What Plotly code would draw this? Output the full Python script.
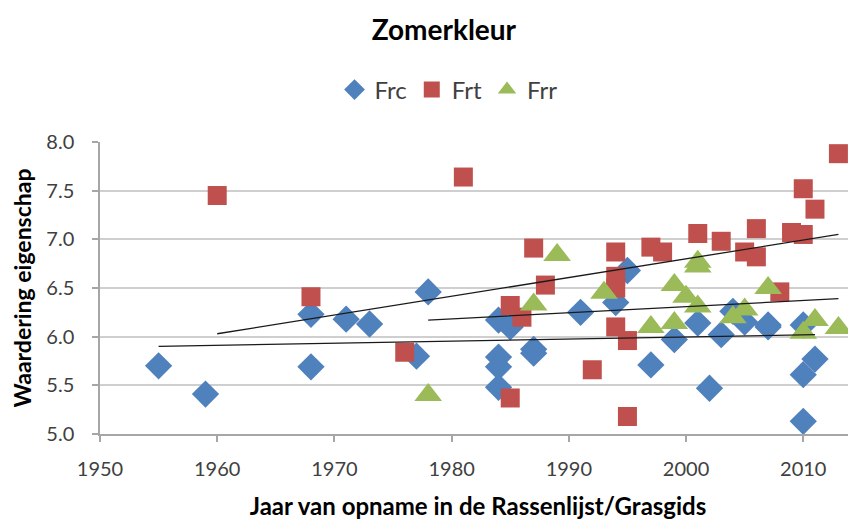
import plotly.graph_objects as go

# ---- data ----
frc_year = [1955, 1959, 1968, 1968, 1971, 1973, 1977, 1978, 1984, 1984, 1984, 1984, 1985,
            1987, 1987, 1991, 1994, 1995, 1997, 1999, 2001, 2002, 2003, 2004, 2005,
            2007, 2007, 2010, 2010, 2010, 2011]
frc_val = [5.70, 5.41, 6.23, 5.69, 6.18, 6.13, 5.80, 6.46, 6.17, 5.79, 5.69, 5.48, 6.10,
           5.87, 5.83, 6.25, 6.35, 6.68, 5.71, 5.97, 6.14, 5.47, 6.02, 6.26, 6.15,
           6.12, 6.10, 6.12, 5.61, 5.13, 5.77]

frt_year = [1960, 1968, 1976, 1981, 1985, 1985, 1986, 1987, 1988, 1992, 1994, 1994, 1994, 1994,
            1995, 1995, 1997, 1998, 2001, 2003, 2005, 2006, 2006, 2008, 2009, 2010, 2010,
            2011, 2013]
frt_val = [7.45, 6.41, 5.84, 7.64, 6.32, 5.37, 6.20, 6.91, 6.53, 5.66, 6.87, 6.62, 6.50, 6.10,
           5.96, 5.18, 6.92, 6.87, 7.06, 6.98, 6.87, 7.11, 6.82, 6.46, 7.07, 7.52, 7.05,
           7.31, 7.88]

frr_year = [1978, 1987, 1989, 1993, 1997, 1999, 1999, 2000, 2001, 2001, 2001, 2004, 2005,
            2007, 2010, 2011, 2013]
frr_val = [5.40, 6.33, 6.84, 6.45, 6.10, 6.53, 6.14, 6.41, 6.77, 6.72, 6.31, 6.20, 6.28,
           6.50, 6.04, 6.17, 6.09]

# linear trend lines (first / last year, value)
frc_trend_year = [1955, 2011]
frc_trend_val = [5.90, 6.02]
frt_trend_year = [1960, 2013]
frt_trend_val = [6.03, 7.05]
frr_trend_year = [1978, 2013]
frr_trend_val = [6.17, 6.39]

x_ticks = [1950, 1960, 1970, 1980, 1990, 2000, 2010]
y_ticks = [5.0, 5.5, 6.0, 6.5, 7.0, 7.5, 8.0]

series = [
    ("Frc", frc_year, frc_val, "#4F81BD", "diamond", 21),
    ("Frt", frt_year, frt_val, "#C0504D", "square", 19),
    ("Frr", frr_year, frr_val, "#9BBB59", "triangle-up", 24),
]
trends = [
    (frc_trend_year, frc_trend_val),
    (frt_trend_year, frt_trend_val),
    (frr_trend_year, frr_trend_val),
]

FONT = "Lato"
W, H = 848, 514  # page adds an 8px body margin

fig = go.Figure()

for name, xs, ys, col, sym, sz in series:
    fig.add_trace(go.Scatter(
        x=xs, y=ys, mode="markers", name=name,
        marker=dict(color=col, symbol=sym, size=sz, line=dict(width=0)),
        cliponaxis=False,
    ))

for xs, ys in trends:
    fig.add_trace(go.Scatter(
        x=xs, y=ys, mode="lines", showlegend=False,
        line=dict(color="#1a1a1a", width=1.3), hoverinfo="skip",
    ))

fig.update_layout(
    width=W, height=H,
    margin=dict(l=92, r=0, t=134, b=88),
    paper_bgcolor="white", plot_bgcolor="white",
    font=dict(family=FONT, color="#404040", size=20),
    title=dict(text="<b>Zomerkleur</b>", x=0.514, xanchor="center",
               y=1 - 22 / H, yanchor="middle",
               font=dict(family=FONT, size=28, color="#000000")),
    showlegend=True,
    legend=dict(orientation="h", x=0.461, xanchor="center", y=1.178, yanchor="middle",
                font=dict(family=FONT, size=24, color="#404040"),
                bgcolor="rgba(0,0,0,0)"),
    xaxis=dict(range=[1950, 2014.5], tickvals=x_ticks, ticktext=[str(v) for v in x_ticks],
               showgrid=False, zeroline=False,
               showline=True, linecolor="#a6a6a6", linewidth=1.5,
               ticks="outside", ticklen=6, tickcolor="#a6a6a6", tickwidth=1.5,
               ticklabelstandoff=10,
               tickfont=dict(family=FONT, size=20, color="#404040"),
               title=dict(text="<b>Jaar van opname in de Rassenlijst/Grasgids</b>",
                          font=dict(family=FONT, size=24, color="#000000"), standoff=19)),
    yaxis=dict(range=[5.0, 8.0], tickvals=y_ticks, ticktext=[f"{v:.1f}" for v in y_ticks],
               showgrid=True, gridcolor="#cfcfcf", gridwidth=1.5, zeroline=False,
               showline=True, linecolor="#a6a6a6", linewidth=1.5,
               ticks="outside", ticklen=6, tickcolor="#a6a6a6", tickwidth=1.5,
               ticklabelstandoff=14,
               tickfont=dict(family=FONT, size=20, color="#404040"),
               title=dict(text="<b>Waardering eigenschap</b>",
                          font=dict(family=FONT, size=23, color="#000000"), standoff=8)),
)

fig.write_html("out.html")
